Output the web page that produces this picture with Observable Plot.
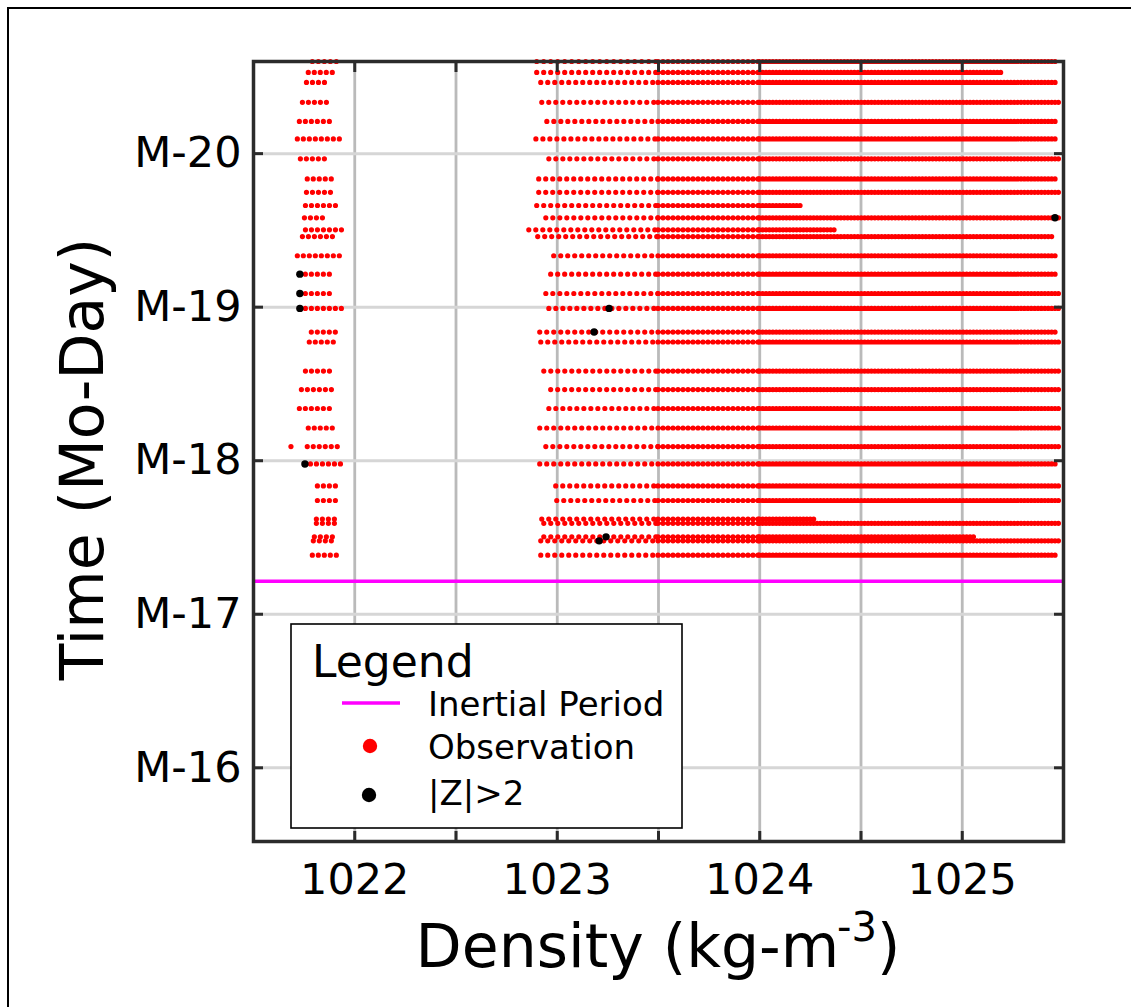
<!DOCTYPE html>
<html><head><meta charset="utf-8">
<script src="https://cdn.jsdelivr.net/npm/d3@7"></script>
<script src="https://cdn.jsdelivr.net/npm/@observablehq/plot@0.6"></script>
<style>
body{margin:0;background:#fff;}
#chart{position:relative;width:1131px;height:1007px;overflow:hidden;background:#fff;}
#chart svg{position:absolute;left:0;top:0;}
</style></head><body><div id="chart"></div>
<script>
// ---- data ----
const rowTime    = [20.60,20.529,20.464,20.334,20.210,20.096,19.966,19.835,19.748,19.662,19.582,19.504,19.460,19.335,19.215,19.089,18.992,18.838,18.773,18.584,18.463,18.340,18.213,18.092,17.979,17.836,17.741,17.620,17.592,17.504,17.478,17.385];
const leftStart  = [1021.793,1021.773,1021.764,1021.744,1021.729,1021.719,1021.734,1021.768,1021.764,1021.759,1021.754,1021.759,1021.744,1021.719,1021.729,1021.729,1021.729,1021.788,1021.778,1021.759,1021.739,1021.729,1021.773,1021.768,1021.754,1021.818,1021.818,1021.813,1021.813,1021.803,1021.798,1021.793];
const leftEnd    = [1021.936,1021.906,1021.872,1021.882,1021.906,1021.936,1021.872,1021.897,1021.897,1021.921,1021.857,1021.956,1021.897,1021.951,1021.906,1021.892,1021.941,1021.916,1021.906,1021.901,1021.911,1021.897,1021.921,1021.921,1021.951,1021.926,1021.926,1021.931,1021.911,1021.911,1021.906,1021.926];
const rightStart = [1022.901,1022.901,1022.921,1022.926,1022.951,1022.897,1022.961,1022.911,1022.911,1022.901,1022.946,1022.862,1022.906,1022.985,1022.970,1022.946,1022.961,1022.916,1022.921,1022.936,1022.970,1022.961,1022.916,1022.946,1022.916,1022.995,1023.000,1022.926,1022.936,1022.936,1022.921,1022.921];
const rightEnd   = [1025.470,1025.202,1025.468,1025.478,1025.463,1025.473,1025.478,1025.468,1025.478,1024.207,1025.478,1024.384,1025.458,1025.468,1025.463,1025.478,1025.478,1025.463,1025.478,1025.478,1025.478,1025.478,1025.478,1025.478,1025.473,1025.478,1025.478,1024.276,1025.478,1025.069,1025.478,1025.463];
const strayDensity = [1021.685];
const strayTime    = [18.092];
const zDensity = [1021.729,1021.729,1021.729,1021.754,1023.256,1023.182,1023.207,1023.241,1025.458];
const zTime    = [19.215,19.089,18.992,17.979,18.992,18.838,17.478,17.504,19.582];
const inertialPeriod = 17.215;
const xTickValues  = [1022,1022.5,1023,1023.5,1024,1024.5,1025];
const xLabelValues = [1022,1023,1024,1025];
const yTickValues  = [16,17,18,19,20];
const sparseUntil = 1023.5, mediumUntil = 1024.0;

// ---- tables built from the arrays ----
const rows = rowTime.map((t,i)=>({t, ls:leftStart[i], le:leftEnd[i], rs:rightStart[i], re:rightEnd[i]}));
const sparse = rows.map(r=>({t:r.t, a:r.rs, b:Math.min(r.re, sparseUntil)}));
const medium = rows.filter(r=>r.re>sparseUntil).map(r=>({t:r.t, a:sparseUntil, b:Math.min(r.re, mediumUntil)}));
const dense  = rows.filter(r=>r.re>mediumUntil).map(r=>({t:r.t, a:mediumUntil, b:r.re}));
const strays = strayDensity.map((d,i)=>({d, t:strayTime[i]}));
const zpts = zDensity.map((d,i)=>({d, t:zTime[i]}));

const RED="#ff0000", FRAME="#2b2b2b", DOTW=5.2;
const dotLine = (data, gap) => Plot.ruleY(data, {y:"t", x1:"a", x2:"b", stroke:RED, strokeWidth:DOTW, strokeLinecap:"round", strokeDasharray:`0 ${gap}`});

const plot = Plot.plot({
  width:1131, height:1007,
  marginLeft:253, marginRight:68, marginTop:61, marginBottom:166,
  style:{fontFamily:"DejaVu Sans", fontSize:"43px", background:"transparent", color:"#000", overflow:"visible"},
  x:{domain:[1021.5,1025.5], label:null},
  y:{domain:[15.52,20.6], label:null},
  marks:[
    Plot.gridX(xTickValues, {stroke:"#bababa", strokeOpacity:1, strokeWidth:2.8}),
    Plot.gridY(yTickValues, {stroke:"#d6d6d6", strokeOpacity:1, strokeWidth:3}),
    Plot.ruleY(rows, {y:"t", x1:"ls", x2:"le", stroke:RED, strokeWidth:DOTW, strokeLinecap:"round", strokeDasharray:"0 6"}),
    Plot.dot(strays, {x:"d", y:"t", r:DOTW/2, fill:RED}),
    dotLine(sparse, 7),
    dotLine(medium, 5),
    dotLine(dense, 3.4),
    Plot.ruleY([inertialPeriod], {stroke:"#ff00ff", strokeWidth:3.5}),
    Plot.dot(zpts, {x:"d", y:"t", r:3.7, fill:"#000"}),
    Plot.frame({stroke:FRAME, strokeWidth:3.5}),
    Plot.axisX(xTickValues, {anchor:"bottom", tickSize:-10, strokeWidth:3, stroke:FRAME, tickFormat:()=>""}),
    Plot.axisX(xTickValues, {anchor:"top", tickSize:-10, strokeWidth:3, stroke:FRAME, tickFormat:()=>""}),
    Plot.axisY(yTickValues, {anchor:"left", tickSize:-10, strokeWidth:3, stroke:FRAME, tickFormat:()=>""}),
    Plot.axisY(yTickValues, {anchor:"right", tickSize:-10, strokeWidth:3, stroke:FRAME, tickFormat:()=>""}),
    Plot.axisX(xLabelValues, {anchor:"bottom", tickSize:0, tickPadding:22, fontSize:43, fill:"#000", tickFormat:d=>String(d)}),
    Plot.axisY(yTickValues, {anchor:"left", tickSize:0, tickPadding:12, fontSize:43, fill:"#000", tickFormat:d=>"M-"+d})
  ]
});
document.getElementById("chart").appendChild(plot);

// ---- outer border, axis titles and legend ----
const svg = d3.select(plot);
svg.append("path").attr("d","M8,1007V8H1131").attr("fill","none").attr("stroke","#000").attr("stroke-width",2);

const xl = svg.append("text").attr("x",658).attr("y",967).attr("text-anchor","middle")
  .attr("font-family","DejaVu Sans").attr("font-size",60).attr("fill","#000");
xl.append("tspan").text("Density (kg-m");
xl.append("tspan").attr("font-size",40).attr("dy",-26).attr("dx",-2).text("-3");
xl.append("tspan").attr("dy",26).text(")");

svg.append("text").attr("transform","translate(103,459) rotate(-90)").attr("text-anchor","middle")
  .attr("font-family","DejaVu Sans").attr("font-size",60).attr("fill","#000").text("Time (Mo-Day)");

const lg = svg.append("g").attr("font-family","DejaVu Sans").attr("fill","#000").attr("text-anchor","start");
lg.append("rect").attr("x",291).attr("y",624).attr("width",391).attr("height",204).attr("fill","#fff").attr("stroke","#000").attr("stroke-width",1.6);
lg.append("text").attr("x",312).attr("y",677).attr("font-size",44).text("Legend");
lg.append("line").attr("x1",342).attr("x2",400).attr("y1",703).attr("y2",703).attr("stroke","#ff00ff").attr("stroke-width",3.5);
lg.append("text").attr("x",428).attr("y",716).attr("font-size",34).text("Inertial Period");
lg.append("circle").attr("cx",370).attr("cy",746).attr("r",7.2).attr("fill",RED);
lg.append("text").attr("x",428).attr("y",759).attr("font-size",34).text("Observation");
lg.append("circle").attr("cx",369).attr("cy",795).attr("r",7.2).attr("fill","#000");
lg.append("text").attr("x",428).attr("y",805).attr("font-size",34).text("|Z|>2");
</script>
</body></html>
